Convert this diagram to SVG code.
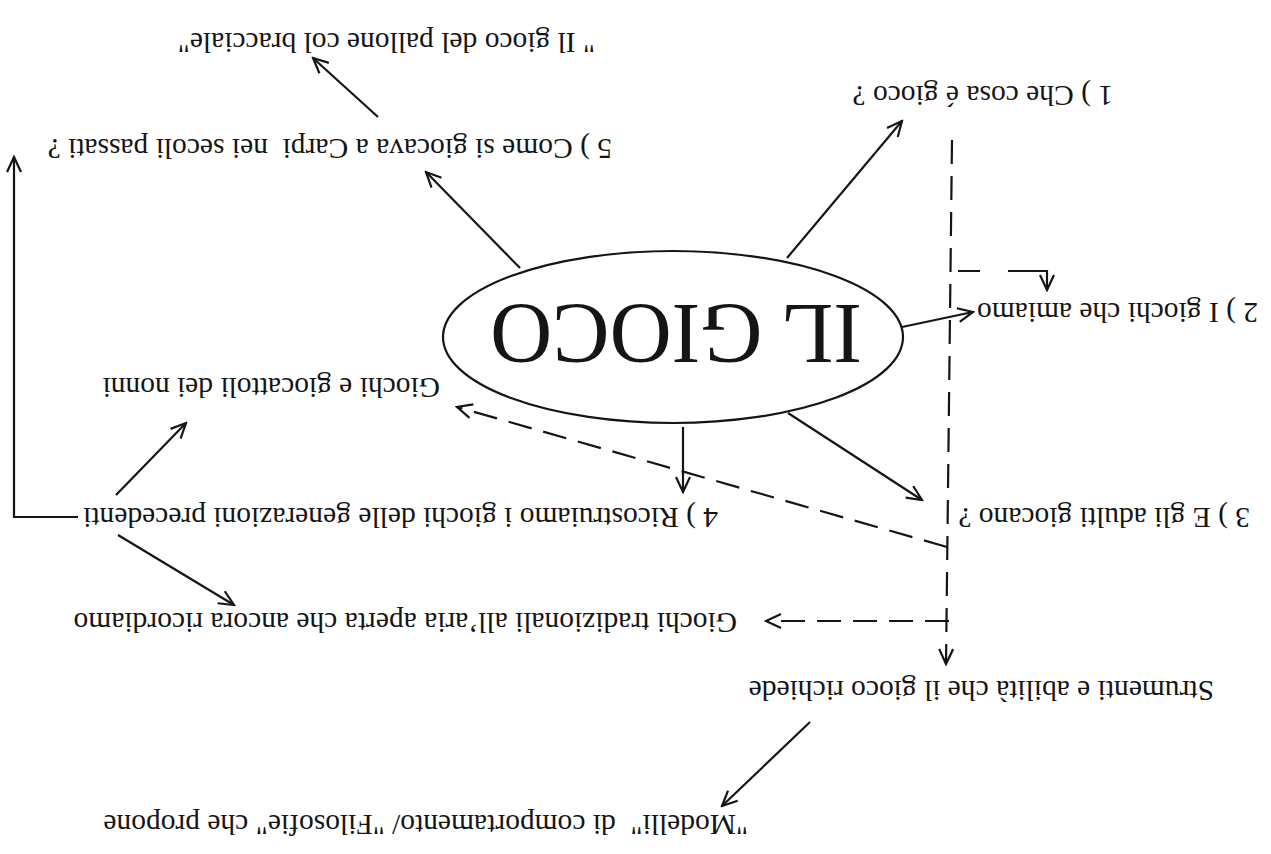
<svg xmlns="http://www.w3.org/2000/svg" width="1271" height="854" viewBox="0 0 1271 854">
<style>
.t{font-family:"Liberation Serif","Times New Roman",serif;font-size:29.5px;fill:#151515;}
.big{font-family:"Liberation Serif","Times New Roman",serif;font-size:86px;fill:#151515;}
.ln{stroke:#151515;stroke-width:2.2;fill:none;}
.ds{stroke:#151515;stroke-width:2.2;fill:none;stroke-dasharray:24 12;}
</style>
<defs>
<marker id="arr" viewBox="-1 -1 18 16" markerWidth="18" markerHeight="16" refX="15" refY="7" orient="auto" markerUnits="userSpaceOnUse">
<path d="M0,0 L15,7 L0,14" fill="none" stroke="#151515" stroke-width="2.2"/>
</marker>
</defs>
<rect width="1271" height="854" fill="#ffffff"/>
<g id="connectors">
<line class="ln" x1="787" y1="258" x2="902" y2="121" marker-end="url(#arr)"/>
<line class="ln" x1="902" y1="327" x2="973" y2="312" marker-end="url(#arr)"/>
<line class="ln" x1="788" y1="413" x2="922" y2="500" marker-end="url(#arr)"/>
<line class="ln" x1="683" y1="427" x2="683" y2="492" marker-end="url(#arr)"/>
<line class="ln" x1="520" y1="268" x2="426" y2="172" marker-end="url(#arr)"/>
<line class="ln" x1="378" y1="117" x2="313" y2="58" marker-end="url(#arr)"/>
<polyline class="ln" points="78,517 14,517 14,157" marker-end="url(#arr)"/>
<line class="ln" x1="116" y1="495" x2="186" y2="423" marker-end="url(#arr)"/>
<line class="ln" x1="118" y1="535" x2="234" y2="605" marker-end="url(#arr)"/>
<line class="ln" x1="810" y1="722" x2="722" y2="806" marker-end="url(#arr)"/>
<line class="ds" x1="952" y1="140" x2="946" y2="664" marker-end="url(#arr)"/>
<polyline class="ds" style="stroke-dasharray:22 28 60 0" points="958,271 1047,271 1047,290" marker-end="url(#arr)"/>
<line class="ds" x1="947" y1="547" x2="457" y2="407" marker-end="url(#arr)"/>
<line class="ds" x1="949" y1="621" x2="766" y2="621" marker-end="url(#arr)"/>
</g>
<g id="center">
<ellipse cx="673" cy="337" rx="230" ry="86" fill="#ffffff" stroke="#151515" stroke-width="2.2"/>
<text class="big" x="676" y="305" text-anchor="middle" transform="rotate(180 676 305)">IL GIOCO</text>
</g>
<g id="n-bracciale"><text class="t" x="595" y="33" transform="rotate(180 595 33)">" Il gioco del pallone col bracciale"</text></g>
<g id="n1"><text class="t" x="1113" y="86" transform="rotate(180 1113 86)">1 ) Che cosa é gioco ?</text></g>
<g id="n5"><text class="t" x="612" y="139" transform="rotate(180 612 139)" xml:space="preserve">5 ) Come si giocava a Carpi  nei secoli passati ?</text></g>
<g id="n2"><text class="t" x="1258" y="303" transform="rotate(180 1258 303)">2 ) I giochi che amiamo</text></g>
<g id="n-nonni"><text class="t" x="440" y="378" transform="rotate(180 440 378)">Giochi e giocattoli dei nonni</text></g>
<g id="n4"><text class="t" x="718" y="508" transform="rotate(180 718 508)">4 ) Ricostruiamo i giochi delle generazioni precedenti</text></g>
<g id="n3"><text class="t" x="1250" y="508" transform="rotate(180 1250 508)">3 ) E gli adulti giocano ?</text></g>
<g id="n-tradizionali"><text class="t" x="737" y="613" transform="rotate(180 737 613)">Giochi tradizionali all’aria aperta che ancora ricordiamo</text></g>
<g id="n-strumenti"><text class="t" x="1214" y="681" transform="rotate(180 1214 681)">Strumenti e abilità che il gioco richiede</text></g>
<g id="n-modelli"><text class="t" x="748" y="815" transform="rotate(180 748 815)" xml:space="preserve">"Modelli"  di comportamento/ "Filosofie" che propone</text></g>
</svg>
